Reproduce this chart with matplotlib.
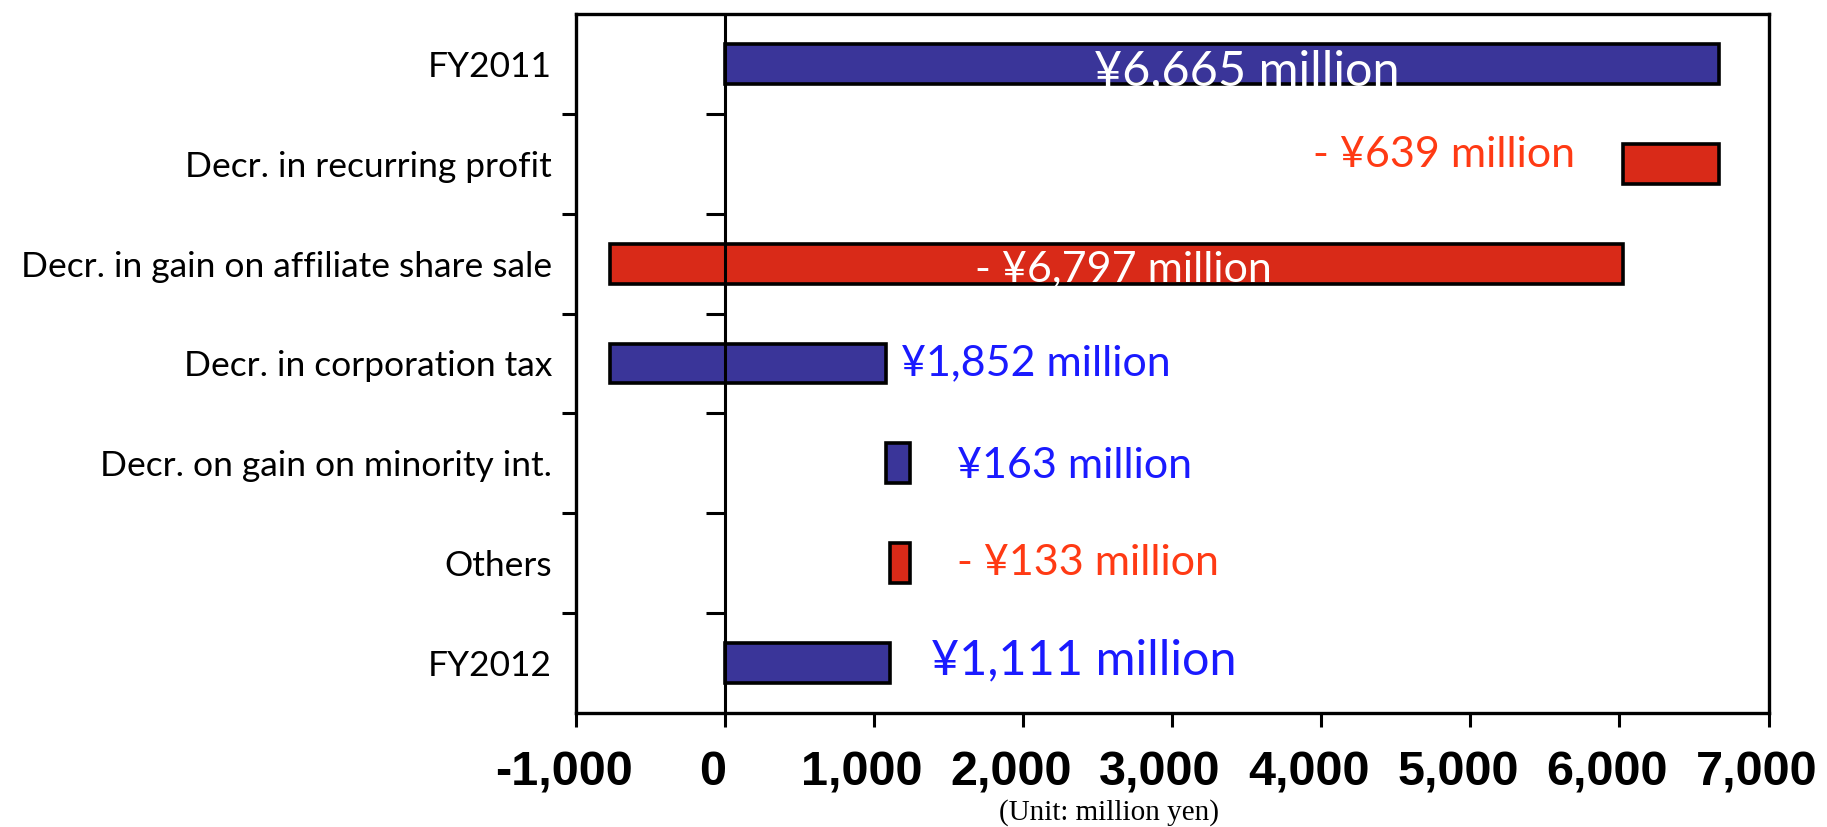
import numpy as np
import matplotlib
matplotlib.use("Agg")
import matplotlib.pyplot as plt
import matplotlib.transforms as mtransforms
from matplotlib.ticker import FixedLocator, FuncFormatter

# data: FY2011 -> FY2012 net income bridge (million yen)
categories = ['FY2011', 'Decr. in recurring profit', 'Decr. in gain on affiliate share sale',
              'Decr. in corporation tax', 'Decr. on gain on minority int.', 'Others', 'FY2012']
changes = [6665, -639, -6797, 1852, 163, -133, 1111]
is_total = [True, False, False, False, False, False, True]
xticks = [-1000, 0, 1000, 2000, 3000, 4000, 5000, 6000, 7000]

BLUE = '#3a3599'
RED = '#d92a18'
TXT_BLUE = '#1a1aff'
TXT_RED = '#ff3a14'
NARROW = ['Lato', 'DejaVu Sans']

# waterfall geometry from the running total
lefts, widths = [], []
running = 0
for v, tot in zip(changes, is_total):
    if tot:
        lefts.append(0)
        widths.append(v)
        running = v
    else:
        new = running + v
        lefts.append(min(running, new))
        widths.append(abs(v))
        running = new
lefts = np.array(lefts)
widths = np.array(widths)
colors = [BLUE if v > 0 else RED for v in changes]

fig = plt.figure(figsize=(18.27, 8.27), dpi=100)
ax = fig.add_axes([0.315, 0.138, 0.653, 0.845])

y = np.arange(len(categories))
ax.barh(y, widths, left=lefts, height=0.4, color=colors, edgecolor='black', linewidth=2.6, zorder=3)

ax.set_xlim(-1000, 7000)
ax.set_ylim(len(categories) - 0.5, -0.5)

# zero line with its own boundary ticks
ax.axvline(0, color='black', lw=2.2, zorder=4)
bounds = np.arange(0.5, len(categories) - 0.5, 1.0)
ax.plot(np.zeros_like(bounds), bounds, ls='none', marker=0, ms=14, mew=2.2, color='black', zorder=4)

for s in ax.spines.values():
    s.set_linewidth(2.4)

ax.set_yticks(y)
ax.set_yticklabels(categories, family=NARROW, fontsize=25.5)
ax.yaxis.set_minor_locator(FixedLocator(bounds))
ax.tick_params(axis='y', which='major', length=0, pad=17)
ax.tick_params(axis='y', which='minor', length=10, width=2.2, direction='out')

ax.set_xticks(xticks)
ax.xaxis.set_major_formatter(FuncFormatter(lambda v, p: f'{int(v):,}'))
ax.tick_params(axis='x', length=10, width=2.2, direction='out', pad=17)
shift = mtransforms.ScaledTranslation(-0.12, 0, fig.dpi_scale_trans)
for lab in ax.get_xticklabels():
    lab.set_family(['Liberation Sans', 'DejaVu Sans'])
    lab.set_fontweight('bold')
    lab.set_fontsize(35)
    lab.set_transform(lab.get_transform() + shift)

# value labels
labels = [f"{'- ' if v < 0 else ''}¥{abs(v):,} million" for v in changes]
place = ['inside', 'left', 'inside', 'right', 'right', 'right', 'right']
offsets = [(18, -5), (-35, 6), (5, -4), (11, 0), (34, -2), (34, 0), (29, 2)]
sizes = [35, 31, 31, 31, 31, 31, 35]
for i, (lab, pl, off, fs) in enumerate(zip(labels, place, offsets, sizes)):
    if pl == 'inside':
        x0, ha, col = lefts[i] + widths[i] / 2, 'center', 'white'
    elif pl == 'left':
        x0, ha = lefts[i], 'right'
        col = TXT_RED if changes[i] < 0 else TXT_BLUE
    else:
        x0, ha = lefts[i] + widths[i], 'left'
        col = TXT_RED if changes[i] < 0 else TXT_BLUE
    ax.annotate(lab, (x0, y[i]), xytext=off, textcoords='offset points',
                ha=ha, va='center', color=col, fontsize=fs, family=NARROW, zorder=5)

fig.text(0.607, 0.018, '(Unit: million yen)', ha='center', va='center',
         family=['Liberation Serif', 'DejaVu Serif'], fontsize=21)

fig.savefig('out.png', dpi=100)
